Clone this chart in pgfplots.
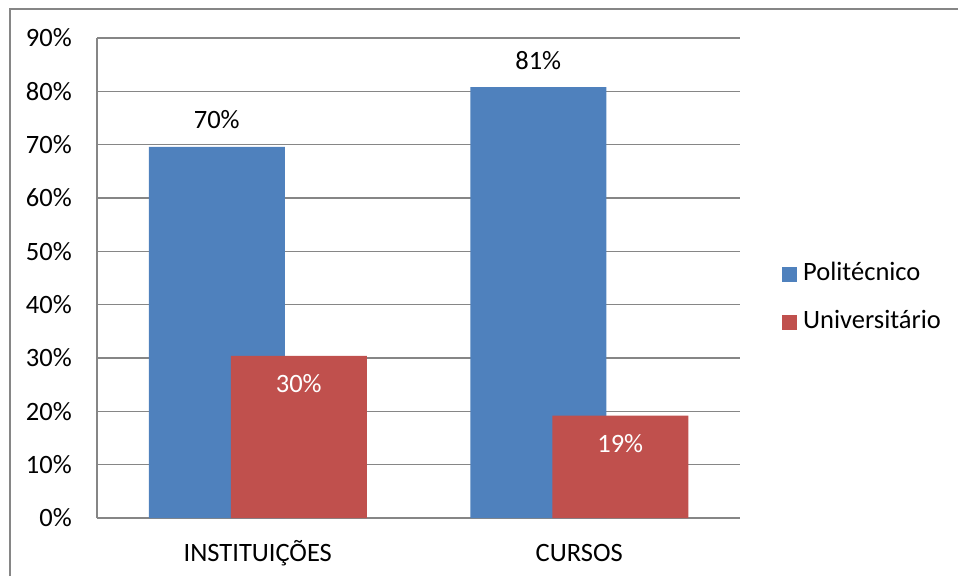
\documentclass[border=0pt]{standalone}
\usepackage{pgfplots}
\pgfplotsset{compat=1.18}
\usepackage{fontspec}
\setmainfont{Carlito}
\definecolor{pblue}{HTML}{4F81BD}
\definecolor{pred}{HTML}{C0504D}
\definecolor{gridgray}{HTML}{868686}
\begin{document}
\begin{tikzpicture}[x=1pt,y=1pt]
\useasboundingbox (0,0) rectangle (958,-576);
\draw[gridgray, line width=1.2pt] (10,-576) -- (10,-9) -- (958,-9);
\begin{axis}[
  at={(97pt,-518pt)}, anchor=south west,
  width=643pt, height=480pt, scale only axis,
  ymin=0, ymax=90, xmin=-0.5, xmax=1.5,
  xtick={0,1}, xticklabels={INSTITUIÇÕES, CURSOS},
  ytick={0,10,...,90},
  yticklabel={\pgfmathprintnumber{\tick}\%},
  /pgf/number format/assume math mode=true,
  ymajorgrids, grid style={gridgray, line width=1.2pt},
  axis x line*=bottom, axis y line*=left,
  axis line style={gridgray, line width=1.2pt, -},
  major tick length=0pt,
  ticklabel style={font=\fontsize{26.5}{31}\selectfont, text=black},
  yticklabel style={inner sep=0pt, anchor=east, xshift=-25pt},
  xticklabel style={inner sep=0pt, text height=17pt, text depth=0pt, anchor=north, yshift=-26pt},
  ybar, bar width=136pt,
  nodes near coords={\pgfmathprintnumber[fixed,precision=0]{\pgfplotspointmeta}\%},
  nodes near coords style={font=\fontsize{26.5}{31}\selectfont, anchor=center, inner sep=0pt},
  legend style={at={(rel axis cs:1,0.4573)}, anchor=west, xshift=42pt, draw=none, fill=none,
    inner sep=0pt, row sep=26pt, font=\fontsize{26.5}{31}\selectfont,
    nodes={inner sep=0pt, text height=17pt, text depth=5pt}},
  legend cell align=left,
  legend image code/.code={\fill[#1] (0pt,-7.5pt) rectangle (15pt,7.5pt); \path (21pt,0pt);},
]
\addplot[fill=pblue, draw=none, bar shift=-41pt,
  every node near coord/.append style={yshift=27pt, text=black}]
  coordinates {(0,69.6) (1,80.8)};
\addplot[fill=pred, draw=none, bar shift=41pt,
  every node near coord/.append style={yshift=-28pt, text=white}]
  coordinates {(0,30.4) (1,19.2)};
\legend{Politécnico, Universitário}
\end{axis}
\end{tikzpicture}
\end{document}
